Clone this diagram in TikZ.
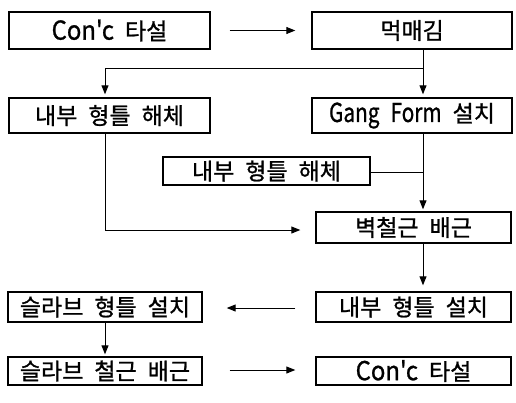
\documentclass[tikz,border=0pt]{standalone}
\usepackage{fontspec}
\usepackage{graphicx}
\newfontfamily\kr[FakeBold=1]{Noto Sans CJK KR}
\newcommand\wsp{\hspace{11pt}}
\newcommand\lat[2][0.8]{\scalebox{#1}[1]{\fontsize{26}{28}\selectfont #2}}
\usetikzlibrary{arrows.meta,calc}
\begin{document}
\begin{tikzpicture}[x=1pt,y=-1pt,
  box/.style={draw,line width=1.4pt,rectangle,inner sep=0pt,font=\kr\fontsize{23}{25}\selectfont},
  conn/.style={line width=1pt},
  arr/.style={conn,-{Triangle[length=9pt,width=7pt]}}]
\useasboundingbox (0,0) rectangle (516,402);
\node[box,minimum width=201pt,minimum height=37pt] (b1) at (109.5,30.5) {\lat[0.92]{Con'c}\wsp 타설};
\node[box,minimum width=200pt,minimum height=37pt] (b2) at (412,30.5) {먹매김};
\node[box,minimum width=201pt,minimum height=35pt] (b3) at (109.5,115.5) {내부\wsp 형틀\wsp 해체};
\node[box,minimum width=200pt,minimum height=35pt] (b4) at (412,115.5) {\lat{Gang}\wsp\lat{Form}\wsp 설치};
\node[box,minimum width=207pt,minimum height=28pt] (b5) at (266.5,171) {내부\wsp 형틀\wsp 해체};
\node[box,minimum width=195pt,minimum height=31pt] (b6) at (413.5,227.5) {벽철근\wsp 배근};
\node[box,minimum width=195pt,minimum height=30pt] (b7) at (413.5,307) {내부\wsp 형틀\wsp 설치};
\node[box,minimum width=194pt,minimum height=30pt] (b8) at (105,307) {슬라브\wsp 형틀\wsp 설치};
\node[box,minimum width=194pt,minimum height=28pt] (b9) at (105,371) {슬라브\wsp 철근\wsp 배근};
\node[box,minimum width=195pt,minimum height=28pt] (b10) at (413.5,371) {\lat[0.92]{Con'c}\wsp 타설};
% connectors
\draw[arr] ($(b1.east)+(19,0)$) -- ($(b2.west)+(-16,0)$);
\coordinate (j1) at (423,68);
\draw[arr] (b2.south -| j1) -- ($(b4.north -| j1)+(0,-3)$);
\draw[arr] (j1) -| ($(b3.north)+(-4.5,-3)$);
\coordinate (j2) at (105,230);
\draw[arr] (b3.south -| j2) -- (j2) -- ($(b6.west |- j2)+(-15,0)$);
\coordinate (j3) at (423,172);
\draw[conn] (b5.east |- j3) -- (j3);
\draw[arr] (b4.south -| j3) -- ($(b6.north -| j3)+(0,-2)$);
\draw[arr] (b6.south -| j3) -- ($(b7.north -| j3)+(0,-6)$);
\draw[arr] ($(b7.west)+(-20,1)$) -- ($(b8.east)+(24,1)$);
\draw[arr] (b8.south) -- ($(b9.north)+(0,-2)$);
\draw[arr] ($(b9.east)+(27,-1)$) -- ($(b10.west)+(-20,-1)$);
\end{tikzpicture}
\end{document}
